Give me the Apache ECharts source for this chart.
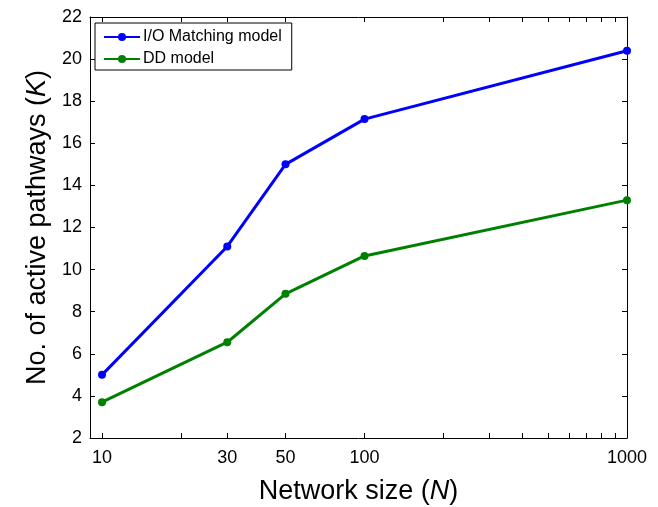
<!DOCTYPE html>
<html>
<head>
<meta charset="utf-8">
<script src="https://cdn.jsdelivr.net/npm/echarts@6/dist/echarts.min.js"></script>
<style>
  html, body { margin: 0; padding: 0; background: #fff; }
  #chart { width: 658px; height: 507px; }
</style>
</head>
<body>
<div id="chart"></div>
<script>
var networkSize = [10, 30, 50, 100, 1000];
var ioMatching = [5.0, 11.1, 15.0, 17.15, 20.4];
var ddModel = [3.7, 6.55, 8.85, 10.65, 13.3];
var xLabelTicks = [10, 30, 50, 100, 1000];
var xTickMarks = [10, 20, 30, 50, 100, 200, 300, 400, 500, 600, 700, 800, 900, 1000];

function pairs(xs, ys) {
  return xs.map(function (x, i) { return [x, ys[i]]; });
}

var font = 'Liberation Sans, Arial, sans-serif';
var chart = echarts.init(document.getElementById('chart'));

var xBase = {
  type: 'log',
  logBase: 10,
  min: 9,
  max: 1000,
  axisLine: { show: true, onZero: false, lineStyle: { color: '#000', width: 1 } },
  axisTick: { show: true, inside: true, length: 5, customValues: xTickMarks, lineStyle: { color: '#000' } },
  splitLine: { show: false },
  minorTick: { show: false }
};

var yBase = {
  type: 'value',
  min: 2,
  max: 22,
  interval: 2,
  axisLine: { show: true, onZero: false, lineStyle: { color: '#000', width: 1 } },
  axisTick: { show: true, inside: true, length: 5, lineStyle: { color: '#000' } },
  splitLine: { show: false }
};

var nameRich = {
  a: { fontFamily: font, fontSize: 27, color: '#000' },
  i: { fontFamily: font, fontSize: 27, color: '#000', fontStyle: 'italic' }
};

chart.setOption({
  animation: false,
  backgroundColor: '#fff',
  grid: { left: 90, right: 31, top: 17, bottom: 69, outerBoundsMode: 'none' },
  legend: {
    orient: 'vertical',
    left: 95,
    top: 23,
    padding: [6, 10, 3, 8],
    itemGap: 6,
    itemWidth: 36,
    itemHeight: 10,
    backgroundColor: '#fff',
    borderColor: '#000',
    borderWidth: 1,
    borderRadius: 0,
    textStyle: { fontFamily: font, fontSize: 16, color: '#000', padding: [0, 0, 0, -2] },
    data: ['I/O Matching model', 'DD model']
  },
  xAxis: [
    Object.assign({}, xBase, {
      position: 'bottom',
      name: '{a|Network size (}{i|N}{a|)}',
      nameLocation: 'middle',
      nameGap: 40,
      nameTextStyle: { rich: nameRich },
      axisLabel: {
        show: true,
        customValues: xLabelTicks,
        formatter: function (v) { return String(v); },
        fontFamily: font, fontSize: 18, color: '#000', margin: 11
      }
    }),
    Object.assign({}, xBase, {
      position: 'top',
      axisLabel: { show: false }
    })
  ],
  yAxis: [
    Object.assign({}, yBase, {
      position: 'left',
      name: '{a|No. of active pathways (}{i|K}{a|)}',
      nameLocation: 'middle',
      nameGap: 38,
      nameRotate: 90,
      nameTextStyle: { rich: nameRich },
      axisLabel: { fontFamily: font, fontSize: 18, color: '#000', margin: 8 }
    }),
    Object.assign({}, yBase, {
      position: 'right',
      axisLabel: { show: false }
    })
  ],
  series: [
    {
      name: 'I/O Matching model',
      type: 'line',
      data: pairs(networkSize, ioMatching),
      symbol: 'circle',
      symbolSize: 8,
      color: '#0000ff',
      lineStyle: { width: 3, color: '#0000ff' },
      itemStyle: { color: '#0000ff' }
    },
    {
      name: 'DD model',
      type: 'line',
      data: pairs(networkSize, ddModel),
      symbol: 'circle',
      symbolSize: 8,
      color: '#008000',
      lineStyle: { width: 3, color: '#008000' },
      itemStyle: { color: '#008000' }
    }
  ]
});
</script>
</body>
</html>
